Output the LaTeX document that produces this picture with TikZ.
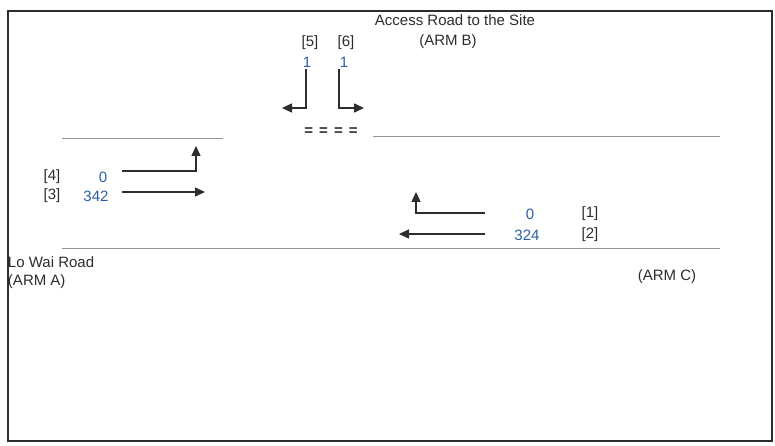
\documentclass[tikz,border=0pt]{standalone}
\usepackage{fontspec}
\setmainfont{Liberation Sans}
\usetikzlibrary{arrows.meta}
\definecolor{flowblue}{RGB}{44,94,166}
\definecolor{ink}{RGB}{45,45,45}
\definecolor{road}{RGB}{150,150,150}
\begin{document}
\begin{tikzpicture}[x=1pt,y=-1pt,
  every node/.style={inner sep=0pt,outer sep=0pt,font=\fontsize{15}{17}\selectfont,text=ink},
  lbl/.style={anchor=center},
  num/.style={anchor=center,text=flowblue},
  roadline/.style={draw=road,line width=0.9pt},
  flow/.style={draw=ink,line width=1.5pt,-{Triangle[length=10pt,width=9pt]}},
  frame/.style={draw=ink,line width=2pt}]
\useasboundingbox (0,0) rectangle (775,446);
\draw[frame] (8,11) rectangle (772,441);
% road lines
\coordinate (ulA) at (62,138); \coordinate (ulB) at (223,138);
\coordinate (urA) at (373,136); \coordinate (urB) at (720,136);
\coordinate (lA) at (62,248); \coordinate (lB) at (720,248);
\draw[roadline] (ulA) -- (ulB);
\draw[roadline] (urA) -- (urB);
\draw[roadline] (lA) -- (lB);
% titles
\node[lbl] (tB) at (455,20) {Access Road to the Site};
\node[lbl] (armB) at (448,42) {(ARM B)};
\node[anchor=west] (loWai) at (8,262) {Lo Wai Road};
\node[anchor=west] (armA) at (8,282) {(ARM A)};
\node[lbl] (armC) at (667,277) {(ARM C)};
% arm B movements
\node[lbl] (i5) at (310,43) {[5]};
\node[lbl] (i6) at (346,43) {[6]};
\node[num] (n5) at (307,62) {1};
\node[num] (n6) at (344,62) {1};
\coordinate (s5) at (306,69); \coordinate (c5) at (306,108); \coordinate (e5) at (282,108);
\coordinate (s6) at (339,69); \coordinate (c6) at (339,108); \coordinate (e6) at (364,108);
\draw[flow] (s5) -- (c5) -- (e5);
\draw[flow] (s6) -- (c6) -- (e6);
\node[lbl,font=\bfseries\fontsize{15}{17}\selectfont] (eq) at (331,132) {=\hspace{6pt}=\hspace{6pt}=\hspace{6pt}=};
% arm A movements
\node[lbl] (i4) at (52,177) {[4]};
\node[lbl] (i3) at (52,196) {[3]};
\node[num] (n4) at (103,177) {0};
\node[num] (n3) at (96,196) {342};
\coordinate (s4) at (122,171); \coordinate (c4) at (196,171); \coordinate (e4) at (196,146);
\coordinate (s3) at (122,192); \coordinate (e3) at (205,192);
\draw[flow] (s4) -- (c4) -- (e4);
\draw[flow] (s3) -- (e3);
% arm C movements
\node[num] (n1) at (530,214) {0};
\node[num] (n2) at (527,235) {324};
\node[lbl] (i1) at (590,214) {[1]};
\node[lbl] (i2) at (590,235) {[2]};
\coordinate (s1) at (485,213); \coordinate (c1) at (416,213); \coordinate (e1) at (416,192);
\coordinate (s2) at (485,234); \coordinate (e2) at (399,234);
\draw[flow] (s1) -- (c1) -- (e1);
\draw[flow] (s2) -- (e2);
\end{tikzpicture}
\end{document}
